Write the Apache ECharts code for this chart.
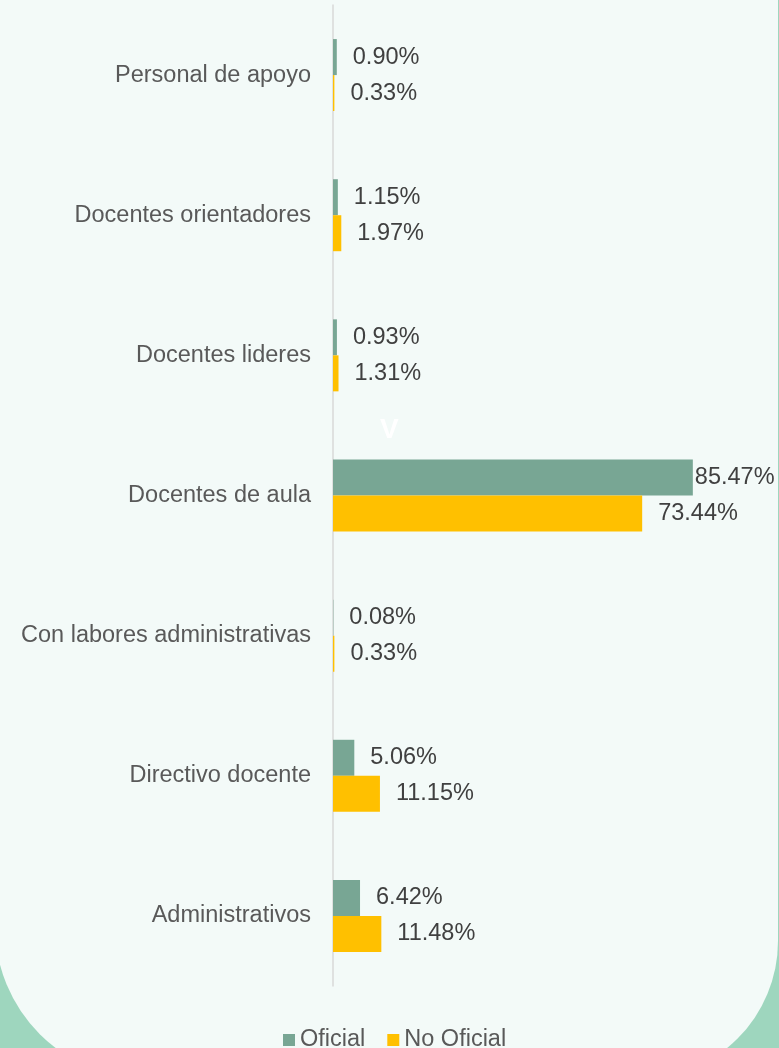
<!DOCTYPE html>
<html>
<head>
<meta charset="utf-8">
<script src="https://cdn.jsdelivr.net/npm/echarts@6/dist/echarts.min.js"></script>
<style>html,body{margin:0;padding:0;}#c{width:779px;height:1048px;}</style>
</head>
<body>
<div id="c"></div>
<script>
const categories = ['Personal de apoyo','Docentes orientadores','Docentes lideres','Docentes de aula','Con labores administrativas','Directivo docente','Administrativos'];
const oficial = [0.90, 1.15, 0.93, 85.47, 0.08, 5.06, 6.42];
const noOficial = [0.33, 1.97, 1.31, 73.44, 0.33, 11.15, 11.48];
const seriesNames = ['Oficial','No Oficial'];

const FONT = '"Liberation Sans", Arial, sans-serif';
const chart = echarts.init(document.getElementById('c'), null, {renderer:'canvas'});

function toData(arr){
  return arr.map(v => v > 80 ? {value: v, label: {distance: 2}} : v);
}
const labelCfg = {
  show: true, position: 'right', distance: 16,
  color: '#404040', fontSize: 23.5, fontFamily: FONT,
  formatter: p => p.value.toFixed(2) + '%'
};

chart.setOption({
  backgroundColor: '#9ed6be',
  animation: false,
  graphic: [
    {type:'rect', z:-10, silent:true,
     shape:{x:-5, y:-20, width:783, height:1099, r:[0,0,138,153]},
     style:{fill:'#f3faf8'}},
    {type:'text', z:10, left:380, top:416,
     style:{text:'V', fill:'#ffffff', font:'bold 28px ' + FONT}}
  ],
  legend: {
    data: seriesNames, left: 283, top: 1028, padding: 0,
    itemWidth: 12, itemHeight: 12, itemGap: 22,
    icon: 'rect',
    textStyle: {color:'#595959', fontSize: 23.5, fontFamily: FONT}
  },
  grid: {left: 333, right: 25, top: 5, bottom: 62, containLabel: false},
  xAxis: {type:'value', min:0, max:100, show:false, splitLine:{show:false}},
  yAxis: {
    type:'category', data: categories, inverse: true,
    axisLine:{show:true, lineStyle:{color:'#d9d9d9', width:1.5}},
    axisTick:{show:false},
    axisLabel:{color:'#595959', fontSize: 23.5, fontFamily: FONT, margin: 22}
  },
  series: [
    {name: seriesNames[0], type:'bar', data: toData(oficial), barWidth: 36, barGap: '0%',
     itemStyle:{color:'#78a694'}, label: labelCfg},
    {name: seriesNames[1], type:'bar', data: toData(noOficial), barWidth: 36, barGap: '0%',
     itemStyle:{color:'#ffc000'}, label: labelCfg}
  ]
});
</script>
</body>
</html>
